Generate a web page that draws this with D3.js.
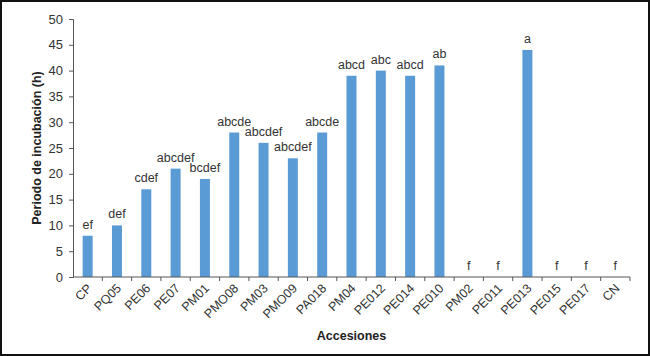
<!DOCTYPE html>
<html>
<head>
<meta charset="utf-8">
<script src="https://cdn.jsdelivr.net/npm/d3@7"></script>
<style>
  body { margin: 0; background: #fff; }
  svg { display: block; font-family: "Liberation Sans", Arial, sans-serif; }
</style>
</head>
<body>
<div id="chart"></div>
<script>
// accessions and incubation period (h), with significance letters
var accesiones = ["CP", "PQ05", "PE06", "PE07", "PM01", "PMO08", "PM03", "PMO09", "PA018", "PM04",
    "PE012", "PE014", "PE010", "PM02", "PE011", "PE013", "PE015", "PE017", "CN"];
var periodo = [8, 10, 17, 21, 19, 28, 26, 23, 28, 39, 40, 39, 41, 0, 0, 44, 0, 0, 0];
var letras = ["ef", "def", "cdef", "abcdef", "bcdef", "abcde", "abcdef", "abcdef", "abcde", "abcd",
    "abc", "abcd", "ab", "f", "f", "a", "f", "f", "f"];
var yTicks = [0, 5, 10, 15, 20, 25, 30, 35, 40, 45, 50];

var W = 650, H = 356;
var margin = { top: 19, right: 20, bottom: 79, left: 73 },
    width = 630 - margin.left,
    height = H - margin.top - margin.bottom;

var svg = d3.select("#chart")
    .append("svg")
    .attr("width", W)
    .attr("height", H);

// black frame around the picture
svg.append("rect")
    .attr("x", 1).attr("y", 1)
    .attr("width", W - 2).attr("height", H - 2)
    .attr("fill", "#fff")
    .attr("stroke", "#111")
    .attr("stroke-width", 2);

var g = svg.append("g")
    .attr("transform", "translate(" + margin.left + "," + margin.top + ")");

var x = d3.scaleBand()
    .domain(accesiones)
    .range([0, width]);

var y = d3.scaleLinear()
    .domain([0, 50])
    .range([height, 0]);

// bars
g.selectAll(".bar")
    .data(periodo)
    .enter()
    .append("rect")
    .attr("class", "bar")
    .attr("x", function(d, i) { return x(accesiones[i]) + x.bandwidth() / 2 - 5; })
    .attr("y", function(d) { return y(d); })
    .attr("width", 10)
    .attr("height", function(d) { return height - y(d); })
    .attr("fill", "#5b9bd5");

// letters above bars
g.selectAll(".letra")
    .data(letras)
    .enter()
    .append("text")
    .attr("x", function(d, i) { return x(accesiones[i]) + x.bandwidth() / 2; })
    .attr("y", function(d, i) { return y(periodo[i]) - 7; })
    .attr("text-anchor", "middle")
    .attr("font-size", "12.5px")
    .attr("fill", "#333")
    .text(function(d) { return d; });

// y axis
var yaxis = g.append("g")
    .call(d3.axisLeft(y).tickValues(yTicks).tickSize(4).tickPadding(6));
yaxis.select(".domain").attr("stroke", "#555");
yaxis.selectAll(".tick line").attr("stroke", "#555");
yaxis.selectAll("text")
    .attr("font-size", "13px")
    .attr("fill", "#333");

// x axis: ticks at category boundaries
var xaxis = g.append("g")
    .attr("transform", "translate(0," + height + ")");
xaxis.append("line")
    .attr("x1", 0).attr("x2", width)
    .attr("stroke", "#555");
xaxis.selectAll(".xt")
    .data(accesiones)
    .enter()
    .append("line")
    .attr("x1", function(d) { return x(d) + x.bandwidth(); })
    .attr("x2", function(d) { return x(d) + x.bandwidth(); })
    .attr("y1", 0).attr("y2", 4)
    .attr("stroke", "#555");
xaxis.selectAll(".xl")
    .data(accesiones)
    .enter()
    .append("text")
    .attr("text-anchor", "end")
    .attr("font-size", "12.5px")
    .attr("fill", "#333")
    .attr("transform", function(d) {
        return "translate(" + (x(d) + x.bandwidth() / 2 + 5) + ",12) rotate(-45)";
    })
    .text(function(d) { return d; });

// axis titles
svg.append("text")
    .attr("transform", "translate(41," + (margin.top + height / 2) + ") rotate(-90)")
    .attr("text-anchor", "middle")
    .attr("font-size", "12.5px")
    .attr("font-weight", "bold")
    .attr("fill", "#222")
    .text("Periodo de incubación (h)");

svg.append("text")
    .attr("x", margin.left + width / 2)
    .attr("y", 340)
    .attr("text-anchor", "middle")
    .attr("font-size", "12.5px")
    .attr("font-weight", "bold")
    .attr("fill", "#222")
    .text("Accesiones");
</script>
</body>
</html>
